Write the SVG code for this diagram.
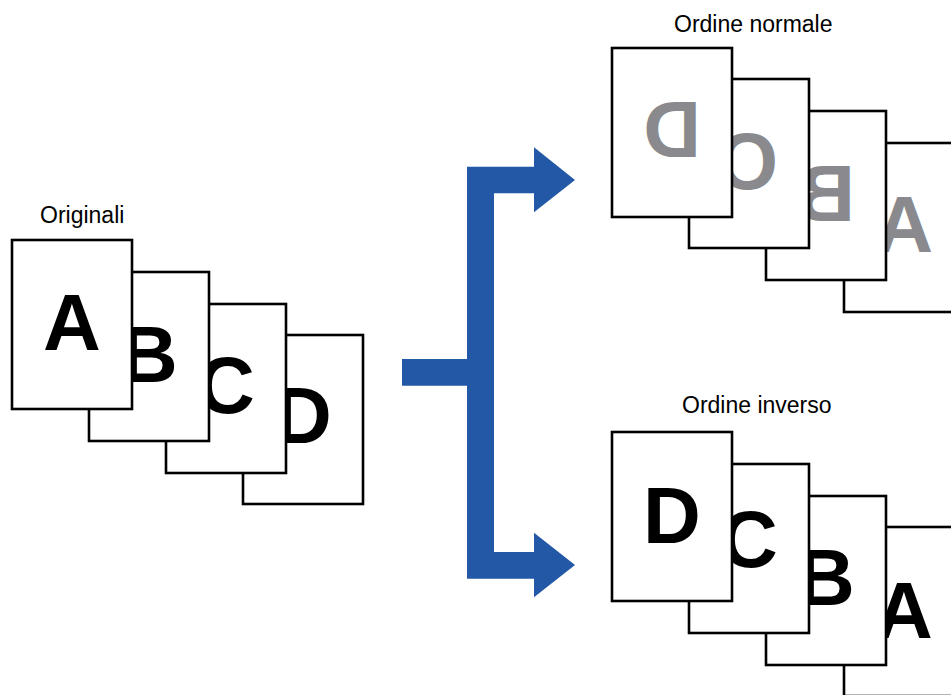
<svg xmlns="http://www.w3.org/2000/svg" width="951" height="695" viewBox="0 0 951 695">
<style>
.page{fill:#fff;stroke:#000;stroke-width:2.6}
.let{font-family:"Liberation Sans",Arial,sans-serif;font-weight:bold;font-size:80px;text-anchor:middle}
.blk{fill:#000}
.gry{fill:#8a8a8e}
.lbl{font-family:"Liberation Sans",Arial,sans-serif;font-size:23px;fill:#000}
</style>
<rect width="951" height="695" fill="#fff"/>
<g id="originals">
<text class="lbl" x="40" y="223">Originali</text>
<g id="orig-D"><rect class="page" x="243" y="335" width="120" height="169"/><text class="let blk" x="303" y="443">D</text></g>
<g id="orig-C"><rect class="page" x="166" y="304" width="120" height="169"/><text class="let blk" x="226" y="413">C</text></g>
<g id="orig-B"><rect class="page" x="89" y="272" width="120" height="169"/><text class="let blk" x="149" y="382">B</text></g>
<g id="orig-A"><rect class="page" x="12" y="240" width="120" height="169"/><text class="let blk" x="72" y="350">A</text></g>
</g>
<g id="normal">
<text class="lbl" x="674" y="32">Ordine normale</text>
<g id="norm-A"><rect class="page" x="844" y="143" width="120" height="169"/><text class="let gry" transform="translate(904,252) scale(-1,1)" x="0" y="0">A</text></g>
<g id="norm-B"><rect class="page" x="766" y="111" width="120" height="169"/><text class="let gry" transform="translate(826,221) scale(-1,1)" x="0" y="0">B</text></g>
<g id="norm-C"><rect class="page" x="689" y="79" width="120" height="169"/><text class="let gry" transform="translate(749,189) scale(-1,1)" x="0" y="0">C</text></g>
<g id="norm-D"><rect class="page" x="612" y="48" width="120" height="169"/><text class="let gry" transform="translate(672,157) scale(-1,1)" x="0" y="0">D</text></g>
</g>
<g id="inverse">
<text class="lbl" x="682" y="413">Ordine inverso</text>
<g id="inv-A"><rect class="page" x="844" y="527" width="120" height="169"/><text class="let blk" x="904" y="638">A</text></g>
<g id="inv-B"><rect class="page" x="766" y="496" width="120" height="169"/><text class="let blk" x="826" y="605">B</text></g>
<g id="inv-C"><rect class="page" x="689" y="464" width="120" height="169"/><text class="let blk" x="749" y="567">C</text></g>
<g id="inv-D"><rect class="page" x="612" y="432" width="120" height="169"/><text class="let blk" x="672" y="543">D</text></g>
</g>
<g id="connectors">
<polygon fill="#2358a6" points="402,359 467,359 467,166.7 534,166.7 534,147.3 575,180 534,212.3 534,193.3 494,193.3 494,552 534,552 534,532.7 575,565 534,597.3 534,578.7 467,578.7 467,385.7 402,385.7"/>
</g>
</svg>
